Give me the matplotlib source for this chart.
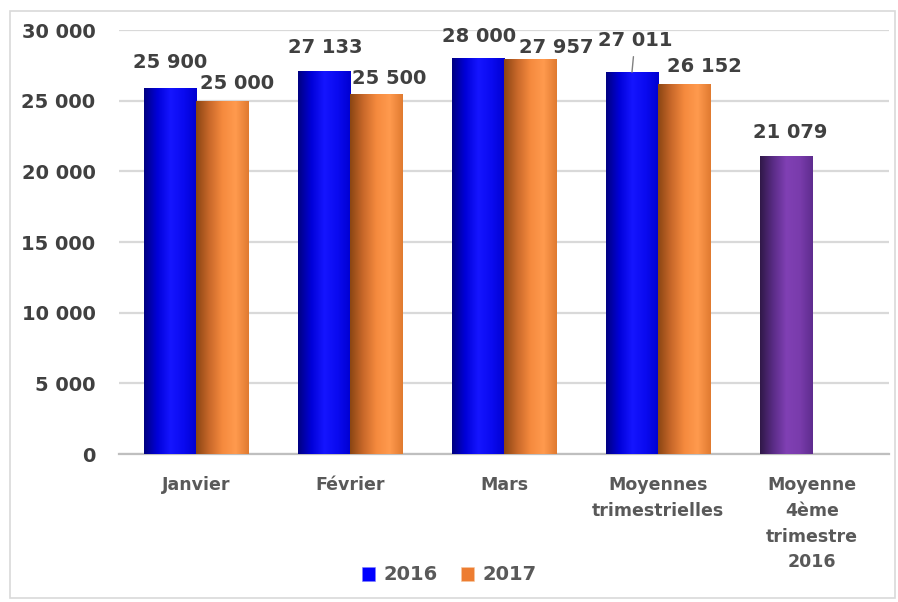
import matplotlib
matplotlib.use('Agg')
import matplotlib.pyplot as plt
import numpy as np
from matplotlib.colors import LinearSegmentedColormap
from matplotlib.patches import Rectangle

categories = ['Janvier', 'Février', 'Mars', 'Moyennes\ntrimestrielles',
              'Moyenne\n4ème\ntrimestre\n2016']
values_2016 = [25900, 27133, 28000, 27011, 21079]
values_2017 = [25000, 25500, 27957, 26152, None]

# label offsets in pixels (dx, dy) above each bar top, as placed in the original
offsets_2016 = [(0, 25), (1, 23), (1, 22), (3, 32), (4, 24)]
offsets_2017 = [(15, 17), (13, 15), (26, 11), (20, 18)]

blue_cmap = LinearSegmentedColormap.from_list('b', ['#000080', '#0000D8', '#1515FF', '#0A0AF0', '#0000D0'])
orange_cmap = LinearSegmentedColormap.from_list('o', ['#8A4513', '#C8682A', '#F58A3E', '#FF9A4E', '#E07A30'])
purple_cmap = LinearSegmentedColormap.from_list('p', ['#301848', '#5A2C86', '#8040B4', '#7A3CAC', '#5E2C8E'])


def fmt(v):
    return f'{v:,.0f}'.replace(',', ' ')


def shade(ax, bars, cmap):
    grad = np.linspace(0, 1, 256).reshape(1, -1)
    for b in bars:
        x0, y0 = b.get_x(), b.get_y()
        im = ax.imshow(grad, cmap=cmap, aspect='auto', zorder=3,
                       extent=(x0, x0 + b.get_width(), y0, y0 + b.get_height()))
        im.set_clip_path(b)


fig = plt.figure(figsize=(8.98, 6.02), dpi=100)
ax = fig.add_axes([119 / 898, 1 - 454 / 602, 770 / 898, 424 / 602])

x = np.arange(len(categories))
w = 0.338
bars16 = ax.bar(x - w / 2, values_2016, w, color='#0000FF', label='2016', zorder=2,
                edgecolor='#8080FF', linewidth=0.4)
i17 = [i for i, v in enumerate(values_2017) if v is not None]
bars17 = ax.bar(x[i17] + w / 2, [values_2017[i] for i in i17], w, color='#ED7D31', label='2017',
                zorder=2, edgecolor='#F8C8A0', linewidth=0.4)

shade(ax, list(bars16)[:4], blue_cmap)
shade(ax, [list(bars16)[4]], purple_cmap)
shade(ax, bars17, orange_cmap)

ax.set_xlim(-0.5, len(categories) - 0.5)
ax.set_ylim(0, 30000)
ax.set_yticks(range(0, 30001, 5000))
ax.set_yticklabels([fmt(v) for v in range(0, 30001, 5000)])
ax.grid(axis='y', color='#D9D9D9', linewidth=1.6, zorder=0)
ax.set_axisbelow(True)
for s in ['top', 'right', 'left']:
    ax.spines[s].set_visible(False)
ax.spines['bottom'].set_color('#BFBFBF')
ax.spines['bottom'].set_linewidth(1.6)
ax.tick_params(axis='y', length=0, pad=17, labelsize=14, labelcolor='#404040')
ax.tick_params(axis='x', length=0, pad=16, labelsize=12.5, labelcolor='#595959')
for t in ax.get_yticklabels():
    t.set_fontweight('bold')
ax.set_xticks(x)
ax.set_xticklabels(categories, fontweight='bold', linespacing=1.55)

txt = dict(ha='center', va='center', fontsize=14, fontweight='bold', color='#404040',
           textcoords='offset pixels')
for i, b in enumerate(bars16):
    dx, dy = offsets_2016[i]
    xc, top = b.get_x() + b.get_width() / 2, b.get_height()
    if i == 3:
        ax.annotate(fmt(values_2016[i]), xy=(xc, top), xytext=(dx, dy),
                    arrowprops=dict(arrowstyle='-', color='#808080', lw=1, shrinkA=3, shrinkB=0), **txt)
    else:
        ax.annotate(fmt(values_2016[i]), xy=(xc, top), xytext=(dx, dy), **txt)
for j, b in enumerate(bars17):
    dx, dy = offsets_2017[j]
    ax.annotate(fmt(values_2017[i17[j]]), xy=(b.get_x() + b.get_width() / 2, b.get_height()),
                xytext=(dx, dy), **txt)

leg = fig.legend(handles=[bars16, bars17], loc='center', bbox_to_anchor=(0.5, 1 - 575 / 602),
                 ncol=2, frameon=False, handlelength=0.7, handleheight=0.7, handletextpad=0.4,
                 columnspacing=1.2, prop=dict(size=14, weight='bold'))
for t in leg.get_texts():
    t.set_color('#595959')

fig.patches.append(Rectangle((10 / 898, 4 / 602), 885 / 898, 587 / 602, transform=fig.transFigure,
                             fill=False, edgecolor='#D9D9D9', linewidth=1.2))

plt.savefig('out.png', dpi=100)
plt.close()
